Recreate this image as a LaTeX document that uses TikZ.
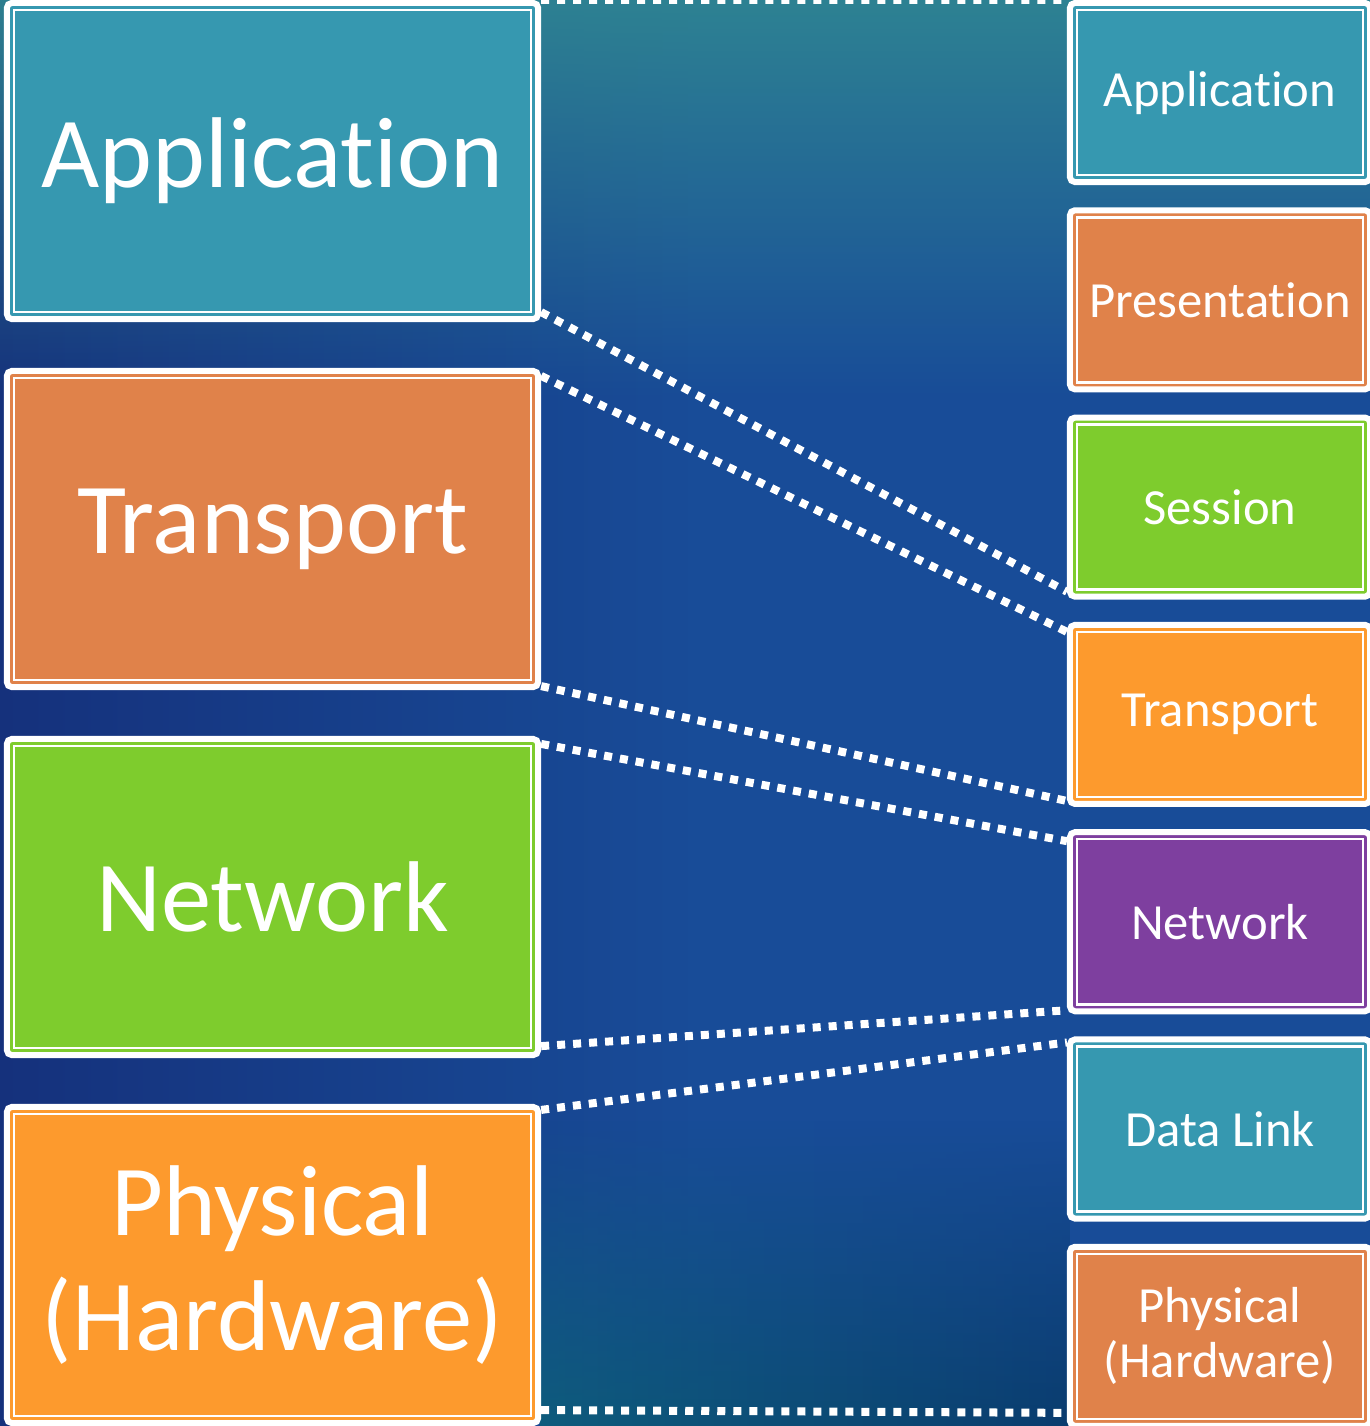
\documentclass[tikz,border=0pt]{standalone}
\usepackage{fontspec}
\setmainfont{Carlito}[Ligatures=NoCommon]
\usetikzlibrary{fadings}
\definecolor{cTeal}{HTML}{3698B0}
\definecolor{cRust}{HTML}{E0824A}
\definecolor{cGreen}{HTML}{7ECC2D}
\definecolor{cOrange}{HTML}{FD9A2D}
\definecolor{cPurple}{HTML}{7E3F9F}
\definecolor{bgTeal}{HTML}{318A92}
\definecolor{bgBlue}{HTML}{184C98}
\definecolor{bgNavy}{HTML}{15317C}
\definecolor{bgDeep}{HTML}{0E5C7C}
\definecolor{bgDark}{HTML}{0A3C6E}
\tikzset{
  layer/.style={draw=white, line width=0.6mm, rounded corners=0.5mm, text=white,
    align=center, inner sep=0pt,
    path picture={\draw[white, line width=0.25mm, sharp corners]
      ([shift={(7,7)}]path picture bounding box.north west) rectangle
      ([shift={(-7,-7)}]path picture bounding box.south east);}},
  bigbox/.style={layer, minimum width=5.31cm, minimum height=3.16cm,
    font=\fontsize{28.6}{32.5}\selectfont},
  smallbox/.style={layer, minimum width=3cm, minimum height=1.79cm,
    font=\fontsize{14.4}{15.6}\selectfont},
  dots/.style={white, line width=0.8mm, dash pattern=on 0.8mm off 0.8mm},
}
\begin{document}
\begin{tikzpicture}[x=0.01cm,y=-0.01cm]
  \clip (0,0) rectangle (1370,1426);
  % Background
  \fill[bgBlue] (0,0) rectangle (1370,1426);
  \shade[left color=bgNavy, right color=bgBlue] (0,0) rectangle (700,1426);
  \fill[bgTeal, path fading=south] (0,-60) rectangle (1370,400);
  \shade[left color=bgDeep, right color=bgDark, path fading=north] (540,1120) rectangle (1070,1426);

  % Nodes: TCP/IP model (left)
  \node[bigbox, fill=cTeal]   (lapp) at (272.5,161)  {Application};
  \node[bigbox, fill=cRust]   (ltra) at (272.5,529)  {Transport};
  \node[bigbox, fill=cGreen]  (lnet) at (272.5,897)  {Network};
  \node[bigbox, fill=cOrange] (lphy) at (272.5,1265) {Physical\\(Hardware)};

  % Nodes: OSI model (right)
  \node[smallbox, fill=cTeal]   (rapp) at (1220,92.5)  {Application};
  \node[smallbox, fill=cRust]   (rpre) at (1220,299.8) {Presentation};
  \node[smallbox, fill=cGreen]  (rses) at (1220,507.1) {Session};
  \node[smallbox, fill=cOrange] (rtra) at (1220,714.4) {Transport};
  \node[smallbox, fill=cPurple] (rnet) at (1220,921.7) {Network};
  \node[smallbox, fill=cTeal]   (rdat) at (1220,1129)  {Data Link};
  \node[smallbox, fill=cRust]   (rphy) at (1220,1336.3) {Physical\\(Hardware)};

  % Connectors
  \draw[dots] (lapp.north east) -- (rapp.north west);
  \draw[dots] ([shift={(0,-10)}]lapp.south east) -- ([shift={(0,-8)}]rses.south west);
  \draw[dots] ([shift={(0,8)}]ltra.north east) -- ([shift={(0,10)}]rtra.north west);
  \draw[dots] ([shift={(0,-4)}]ltra.south east) -- ([shift={(0,-6)}]rtra.south west);
  \draw[dots] ([shift={(0,8)}]lnet.north east) -- ([shift={(0,12)}]rnet.north west);
  \draw[dots] ([shift={(0,-12)}]lnet.south east) -- ([shift={(0,-4)}]rnet.south west);
  \draw[dots] ([shift={(0,6)}]lphy.north east) -- ([shift={(0,6)}]rdat.north west);
  \draw[dots] ([shift={(0,-16)}]lphy.south east) -- ([shift={(0,-16)}]rphy.south west);
\end{tikzpicture}
\end{document}
